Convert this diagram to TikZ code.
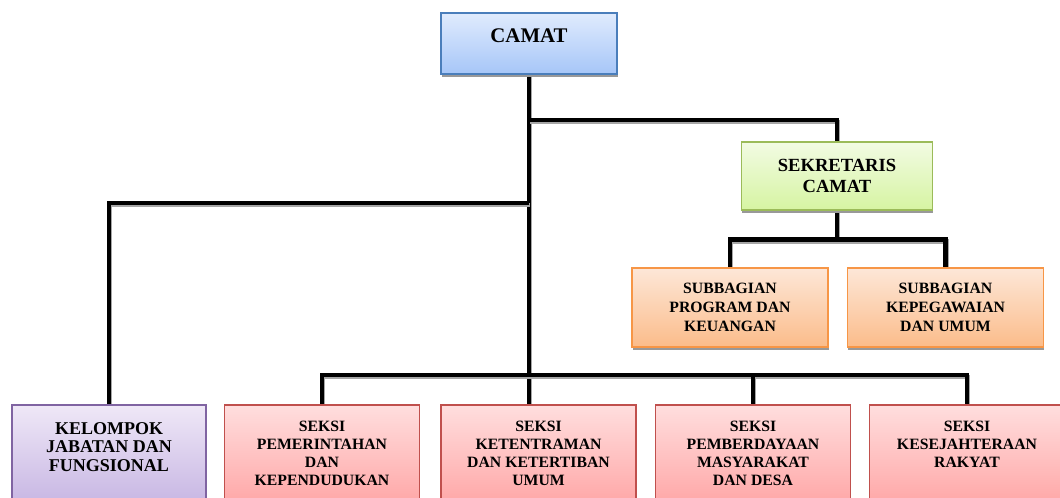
\documentclass[tikz,border=0pt]{standalone}
\usepackage{fontspec}
\setmainfont{Liberation Serif}
\usetikzlibrary{shadows}
\usetikzlibrary{backgrounds}
\definecolor{camatline}{HTML}{4A7EBB}
\definecolor{camattop}{HTML}{E0EBFD}
\definecolor{camatbot}{HTML}{A6C6F8}
\definecolor{sekline}{HTML}{9BBB59}
\definecolor{sektop}{HTML}{F2FBE3}
\definecolor{sekbot}{HTML}{D6F4A2}
\definecolor{subline}{HTML}{F79646}
\definecolor{subtop}{HTML}{FDE7D8}
\definecolor{subbot}{HTML}{FBBC8A}
\definecolor{seksiline}{HTML}{C0504D}
\definecolor{seksitop}{HTML}{FFDEDE}
\definecolor{seksibot}{HTML}{FF9E9E}
\definecolor{kjfline}{HTML}{8064A2}
\definecolor{kjftop}{HTML}{EFE8F7}
\definecolor{kjfbot}{HTML}{C1AEE0}
\tikzset{
	unit/.style={draw, line width=1pt, inner sep=0pt, align=center,
		drop shadow={shadow xshift=0.6pt, shadow yshift=-2pt, fill=black!40, opacity=1}},
	camatbox/.style={unit, draw=camatline, top color=camattop, bottom color=camatbot,
		minimum width=4.4cm, minimum height=1.525cm},
	sekbox/.style={unit, draw=sekline, top color=sektop, bottom color=sekbot,
		minimum width=4.775cm, minimum height=1.7cm, font=\fontsize{13.2}{15.4}\selectfont\bfseries},
	subbox/.style={unit, draw=subline, top color=subtop, bottom color=subbot,
		minimum width=4.9cm, minimum height=1.975cm, font=\fontsize{11.2}{13.5}\selectfont\bfseries},
	seksibox/.style={unit, draw=seksiline, top color=seksitop, bottom color=seksibot,
		minimum width=4.875cm, minimum height=2.875cm},
	kjfbox/.style={unit, draw=kjfline, top color=kjftop, bottom color=kjfbot,
		minimum width=4.85cm, minimum height=2.875cm},
	boxtext/.style={inner sep=0pt, align=center, anchor=north},
	link/.style={line width=3.5pt, line join=miter,
		preaction={draw=black!35, line width=3.5pt, transform canvas={xshift=0.7pt, yshift=-1.4pt}}}
}
\begin{document}
\begin{tikzpicture}[x=0.025cm, y=-0.025cm]
	% page: 1060 x 498 px, 1px = 0.025cm
	\useasboundingbox (0,0) rectangle (1060,498);
	\clip (0,0) rectangle (1060,498);
	% head
	\node[camatbox] (camat) at (529,43.5) {};
	\node[boxtext, font=\fontsize{14.8}{16}\selectfont\bfseries] (camattext) at (529,28) {CAMAT};
	% secretary and sub-parts
	\node[sekbox] (sekcam) at (837,176) {SEKRETARIS\\CAMAT};
	\node[subbox] (sub1) at (730,307.5) {SUBBAGIAN\\PROGRAM DAN\\KEUANGAN};
	\node[subbox] (sub2) at (945.5,307.5) {SUBBAGIAN\\KEPEGAWAIAN\\DAN UMUM};
	% bottom row, cut off by the page edge
	\node[kjfbox] (kjf) at (109,462.5) {};
	\node[seksibox] (seksi1) at (322,462.5) {};
	\node[seksibox] (seksi2) at (538.5,462.5) {};
	\node[seksibox] (seksi3) at (753,462.5) {};
	\node[seksibox] (seksi4) at (967,462.5) {};
	\node[boxtext, font=\fontsize{12.8}{13}\selectfont\bfseries] (kjftext) at ([yshift=-0.45cm]kjf.north) {KELOMPOK\\JABATAN DAN\\FUNGSIONAL};
	\begin{scope}[every node/.style={boxtext, font=\fontsize{11.2}{12.8}\selectfont\bfseries}]
		\node (seksi1text) at ([yshift=-0.425cm]seksi1.north) {SEKSI\\PEMERINTAHAN\\DAN\\KEPENDUDUKAN};
		\node (seksi2text) at ([yshift=-0.425cm]seksi2.north) {SEKSI\\KETENTRAMAN\\DAN KETERTIBAN\\UMUM};
		\node (seksi3text) at ([yshift=-0.425cm]seksi3.north) {SEKSI\\PEMBERDAYAAN\\MASYARAKAT\\DAN DESA};
		\node (seksi4text) at ([yshift=-0.425cm]seksi4.north) {SEKSI\\KESEJAHTERAAN\\RAKYAT};
	\end{scope}
	% lines
	\begin{scope}[on background layer]
		\coordinate (busA) at (529,120);
		\coordinate (busB) at (529,203);
		\coordinate (busD) at (529,375);
		\draw[link] (camat.south) -- (camat.south |- seksi2.north);
		\draw[link] (busA) -| (sekcam.north);
		\draw[link] (busB) -| (kjf.north);
		\draw[link] (sekcam.south) -- ++(0,29) coordinate (busC);
		\draw[link] (sub1.north) |- (busC) -| (sub2.north);
		\draw[link] (seksi1.north) |- (seksi4.north |- busD) -- (seksi4.north);
		\draw[link] (seksi3.north) -- (seksi3.north |- busD);
	\end{scope}
\end{tikzpicture}
\end{document}
